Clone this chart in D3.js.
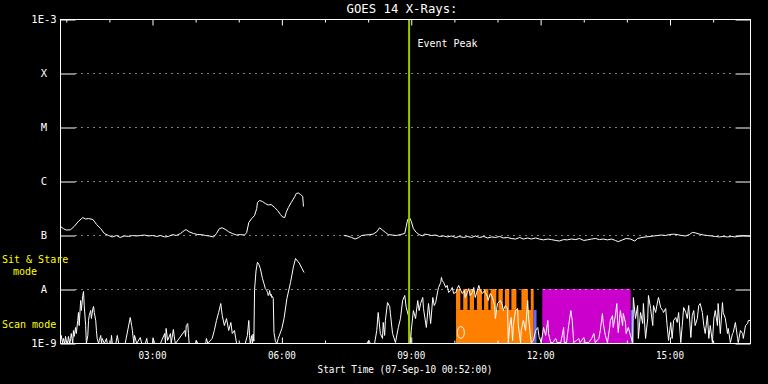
<!DOCTYPE html>
<html><head><meta charset="utf-8">
<script src="https://cdn.jsdelivr.net/npm/d3@7"></script>
<style>html,body{margin:0;padding:0;background:#000;}svg{display:block;}</style>
</head><body><svg id="c" width="768" height="384"></svg>
<script>
const title = "GOES 14 X-Rays:";
const xTitle = "Start Time (07-Sep-10 00:52:00)";
const startTime = new Date(2010, 8, 7, 0, 52, 0);
const spanMinutes = 960;
const levelValues = [1e-3, 1e-4, 1e-5, 1e-6, 1e-7, 1e-8, 1e-9];
const levelLabels = ["1E-3", "X", "M", "C", "B", "A", "1E-9"];
const eventPeakMinute = 485;
const eventLabel = "Event Peak";
const modeLabels = ["Sit & Stare", "mode", "Scan mode"];

// [minutes since start, flux W/m^2]; null marks a data gap
const longChannel = [[0,1.47e-7],[4,1.34e-7],[8,1.26e-7],[14,1.28e-7],[19,1.47e-7],[25,1.83e-7],[31,2.15e-7],[35,2.02e-7],[39,2.06e-7],[45,1.98e-7],[50,1.61e-7],[56,1.34e-7],[61,1.09e-7],[67,1.0e-7],[72,9.4e-8],[78,1.0e-7],[83,9.2e-8],[89,9.8e-8],[95,9.6e-8],[100,1.0e-7],[106,9.8e-8],[111,1.0e-7],[117,1.02e-7],[122,9.8e-8],[128,1.0e-7],[134,9.6e-8],[139,1.0e-7],[145,9.4e-8],[150,9.6e-8],[156,1.04e-7],[161,1.0e-7],[167,1.09e-7],[173,1.26e-7],[175,1.28e-7],[179,1.17e-7],[185,1.09e-7],[191,1.04e-7],[196,1.04e-7],[202,1.0e-7],[207,9.8e-8],[213,9.4e-8],[217,1.09e-7],[221,1.34e-7],[225,1.39e-7],[230,1.28e-7],[234,1.17e-7],[239,1.09e-7],[245,1.02e-7],[250,1.04e-7],[256,1.02e-7],[259,1.13e-7],[262,1.74e-7],[266,2.06e-7],[270,2.35e-7],[273,3.16e-7],[274,4.08e-7],[277,4.45e-7],[281,4.26e-7],[285,3.91e-7],[289,3.67e-7],[293,3.75e-7],[298,3.3e-7],[302,2.9e-7],[306,2.45e-7],[309,2.2e-7],[312,2.15e-7],[314,2.67e-7],[317,3.3e-7],[321,4.08e-7],[326,5.27e-7],[328,6.0e-7],[331,6.12e-7],[334,5.74e-7],[337,5.27e-7],[338,3.44e-7],[339,null],
[394,1.0e-7],[399,9.8e-8],[405,9.2e-8],[410,8.6e-8],[415,9.2e-8],[419,1.0e-7],[424,1.02e-7],[430,1.04e-7],[435,1.06e-7],[440,1.17e-7],[444,1.39e-7],[448,1.26e-7],[452,1.14e-7],[456,1.04e-7],[462,1.02e-7],[467,1.0e-7],[473,1.04e-7],[479,1.09e-7],[481,1.47e-7],[483,1.98e-7],[486,2.1e-7],[488,1.83e-7],[491,1.34e-7],[495,1.14e-7],[499,1.04e-7],[504,9.8e-8],[506,1.06e-7],[511,1.04e-7],[516,1.0e-7],[522,1.02e-7],[527,9.6e-8],[533,9.8e-8],[538,9.4e-8],[544,9.8e-8],[550,9.2e-8],[555,9.6e-8],[561,9.2e-8],[566,9.6e-8],[572,9.2e-8],[577,9.8e-8],[583,9.2e-8],[589,9.6e-8],[594,9.0e-8],[600,9.4e-8],[605,9.2e-8],[611,9.6e-8],[616,9.0e-8],[622,9.2e-8],[627,8.8e-8],[633,8.6e-8],[639,9.2e-8],[644,8.6e-8],[650,9.0e-8],[655,8.6e-8],[661,9.0e-8],[666,8.6e-8],[672,8.3e-8],[678,8.6e-8],[683,8.4e-8],[689,8.1e-8],[694,7.9e-8],[700,8.4e-8],[705,8.3e-8],[711,8.6e-8],[717,8.4e-8],[722,8.8e-8],[728,8.1e-8],[733,8.3e-8],[739,8.6e-8],[744,8.8e-8],[750,8.4e-8],[755,8.6e-8],[761,8.3e-8],[767,8.6e-8],[772,8.1e-8],[776,7.7e-8],[782,8.3e-8],[787,8.8e-8],[793,8.6e-8],[799,7.9e-8],[803,8.8e-8],[809,9.2e-8],[814,9.4e-8],[820,9.6e-8],[825,9.8e-8],[831,1.0e-7],[836,1.02e-7],[842,1.0e-7],[847,1.04e-7],[853,1.06e-7],[858,1.04e-7],[864,1.0e-7],[870,9.8e-8],[875,1.04e-7],[879,1.14e-7],[883,1.12e-7],[889,1.06e-7],[895,1.02e-7],[900,1.0e-7],[906,9.8e-8],[911,9.6e-8],[917,9.4e-8],[922,9.6e-8],[928,9.4e-8],[934,9.6e-8],[939,9.4e-8],[945,9.8e-8],[950,1.0e-7],[956,9.8e-8],[960,9.8e-8]];

const shortChannel = [[0,1.14e-9],[1,1.41e-9],[3,1e-9],[4,1.24e-9],[6,1e-9],[7,1.35e-9],[8,1.14e-9],[10,1e-9],[11,1.35e-9],[13,1e-9],[14,1.24e-9],[15,1.53e-9],[17,1e-9],[18,1.74e-9],[19,1.35e-9],[21,1.98e-9],[22,1.53e-9],[24,2.67e-9],[25,3.75e-9],[26,2.15e-9],[28,6.26e-9],[29,4.08e-9],[31,7.74e-9],[32,9.18e-9],[33,5.05e-9],[35,2.15e-9],[36,1e-9],[38,1.41e-9],[39,2.67e-9],[40,3.30e-9],[42,4.08e-9],[43,2.90e-9],[45,4.45e-9],[46,4.84e-9],[47,3.75e-9],[49,2.67e-9],[50,1.74e-9],[51,1.24e-9],[53,1e-9],[54,1.14e-9],[56,1.41e-9],[57,1e-9],[58,1.24e-9],[61,1e-9],[64,1.24e-9],[65,1e-9],[70,1e-9],[71,1.41e-9],[72,1e-9],[77,1e-9],[79,1.41e-9],[81,1e-9],[90,1e-9],[97,3.03e-9],[99,2.15e-9],[100,1.74e-9],[102,1e-9],[103,1.41e-9],[106,1e-9],[111,1.29e-9],[113,1e-9],[118,1e-9],[120,1.24e-9],[121,1e-9],[128,1e-9],[129,1.24e-9],[131,1e-9],[139,1e-9],[145,1.53e-9],[146,1e-9],[147,1.90e-9],[149,1.14e-9],[153,1.53e-9],[154,1e-9],[157,1.82e-9],[159,1.14e-9],[160,1e-9],[173,1.74e-9],[174,1.35e-9],[175,2.15e-9],[177,2.34e-9],[178,1.53e-9],[179,1e-9],[188,1e-9],[189,1.14e-9],[191,1e-9],[202,1e-9],[203,1.24e-9],[205,1e-9],[211,1.24e-9],[214,1.74e-9],[217,2.67e-9],[220,3.75e-9],[223,5.50e-9],[225,3.30e-9],[228,2.15e-9],[231,2.90e-9],[234,1.74e-9],[237,2.45e-9],[239,1.53e-9],[242,1.74e-9],[245,1e-9],[250,1e-9],[257,1e-9],[260,1.41e-9],[262,2.67e-9],[263,1.41e-9],[264,1e-9],[266,1.4e-9],[267,1e-9],[268,1.5e-9],[269,1.1e-9],[270,1e-8],[272,2.2e-8],[274,3.2e-8],[276,2.9e-8],[278,2.45e-8],[281,1.6e-8],[283,1.3e-8],[285,1.04e-8],[287,9.6e-9],[288,8.8e-9],[289,7.74e-9],[290,8.2e-9],[291,9.58e-9],[292,7.74e-9],[293,8.2e-9],[294,7.1e-9],[295,7.4e-9],[296,6.8e-9],[297,1.6e-9],[299,1.1e-9],[301,1e-9],[303,1.24e-9],[308,1.9e-9],[311,2.9e-9],[315,6.8e-9],[320,1.35e-8],[324,2.6e-8],[327,3.75e-8],[332,3.1e-8],[336,2.45e-8],[339,2.06e-8],[340,null],
[394,1e-9],[426,1e-9],[429,1.14e-9],[431,1e-9],[437,1e-9],[440,1.74e-9],[442,3.75e-9],[445,1.53e-9],[448,1.24e-9],[449,2.45e-9],[451,1.41e-9],[452,2.67e-9],[455,5.74e-9],[458,4.84e-9],[459,3.59e-9],[462,1.53e-9],[466,1.04e-9],[470,1.98e-9],[473,2.9e-9],[476,6.26e-9],[479,7.74e-9],[481,4.64e-9],[484,3.3e-9],[487,1.04e-9],[488,1.74e-9],[491,4.08e-9],[494,2.9e-9],[497,6.26e-9],[499,4.08e-9],[501,5.5e-9],[504,7.11e-9],[505,4.45e-9],[509,1.98e-9],[512,5.5e-9],[515,2.34e-9],[518,7.11e-9],[520,5.05e-9],[522,5.74e-9],[525,9.58e-9],[526,1.09e-8],[529,1.35e-8],[530,1.67e-8],[531,1.47e-8],[533,1.35e-8],[536,1.09e-8],[538,1.19e-8],[540,8.8e-9],[543,9.58e-9],[545,1.09e-8],[547,8.43e-9],[550,8.8e-9],[552,1.04e-8],[554,1.19e-8],[557,9.58e-9],[559,8.43e-9],[562,9.58e-9],[563,7.11e-9],[566,8.8e-9],[568,1.04e-8],[570,7.74e-9],[573,8.8e-9],[575,1.09e-8],[577,7.11e-9],[580,9.58e-9],[582,1.19e-8],[584,9.58e-9],[587,8.43e-9],[590,9.58e-9],[591,8.8e-9],[594,7.42e-9],[595,6.26e-9],[598,8.43e-9],[601,7.11e-9],[604,5.05e-9],[605,2.9e-9],[608,5.5e-9],[612,6.26e-9],[615,5.05e-9],[616,4.08e-9],[619,5.05e-9],[622,4.45e-9],[623,1.04e-9],[625,2.15e-9],[627,3.03e-9],[629,1.14e-9],[630,2.15e-9],[633,4.08e-9],[636,4.45e-9],[637,2.15e-9],[640,1.04e-9],[641,1.74e-9],[644,2.67e-9],[647,1.74e-9],[650,6.26e-9],[651,3.3e-9],[653,1.74e-9],[655,1.04e-9],[658,1.14e-9],[661,1.74e-9],[664,1.98e-9],[666,1.29e-9],[669,1.04e-9],[672,1.98e-9],[675,1.41e-9],[678,2.67e-9],[679,1.53e-9],[682,1.04e-9],[685,1.04e-9],[689,1.24e-9],[691,1.04e-9],[696,1.04e-9],[698,1.41e-9],[700,1.98e-9],[701,1.04e-9],[704,1.04e-9],[707,2.15e-9],[710,4.08e-9],[712,2.67e-9],[714,1.04e-9],[718,1.14e-9],[721,1.24e-9],[723,1.04e-9],[728,1.29e-9],[730,1.04e-9],[735,1.04e-9],[739,1.24e-9],[742,1.53e-9],[744,1.04e-9],[749,1.24e-9],[751,1.74e-9],[754,3.59e-9],[755,2.45e-9],[758,1.41e-9],[761,1.04e-9],[764,1.98e-9],[765,2.67e-9],[768,3.3e-9],[769,1.98e-9],[772,3.3e-9],[774,5.5e-9],[775,2.67e-9],[776,1.6e-9],[779,4.08e-9],[782,2.15e-9],[783,3.59e-9],[786,2.45e-9],[787,1.53e-9],[790,1.98e-9],[793,1.41e-9],[796,1.04e-9],[797,7.11e-9],[800,2.9e-9],[803,5.05e-9],[804,1.24e-9],[807,3.75e-9],[810,2.34e-9],[811,5.5e-9],[814,1.24e-9],[817,2.9e-9],[818,7.74e-9],[821,4.45e-9],[824,2.15e-9],[825,5.05e-9],[828,3.75e-9],[831,6.26e-9],[832,7.11e-9],[835,4.64e-9],[838,4.08e-9],[839,3.75e-9],[842,4.45e-9],[844,2.15e-9],[846,1.14e-9],[849,2.45e-9],[851,1.24e-9],[853,2.67e-9],[856,3.03e-9],[858,2.45e-9],[860,3.75e-9],[863,1.04e-9],[865,2.15e-9],[867,4.64e-9],[870,3.75e-9],[872,2.9e-9],[874,5.05e-9],[877,1.29e-9],[879,3.3e-9],[881,4.08e-9],[883,2.15e-9],[886,2.9e-9],[888,5.05e-9],[890,5.5e-9],[893,3.75e-9],[895,2.15e-9],[897,1.53e-9],[900,3.3e-9],[902,1.24e-9],[904,2.15e-9],[907,1.04e-9],[909,2.9e-9],[911,4.08e-9],[914,2.15e-9],[915,5.5e-9],[918,1.53e-9],[921,5.74e-9],[922,3.75e-9],[925,2.9e-9],[928,1.53e-9],[929,1.9e-9],[932,1.04e-9],[935,1.53e-9],[936,1.6e-9],[939,2.45e-9],[942,1.24e-9],[943,1.04e-9],[946,1.74e-9],[949,1.53e-9],[950,1.24e-9],[953,2.15e-9],[956,2.34e-9],[957,2.67e-9],[960,2.67e-9]];

// observing-mode bars: [start minute, end minute]
const bandTop = 1e-8, bandMid = 4.1e-9, bandBottom = 1e-9;
const sitStareOrange = [[551,557],[561,567],[570,576],[580,587],[590,596],[599,607],[610,616],[619,625],[628,635],[642,651],[655,659]];
const scanOrange = [[551,659]];
const scanBlue = [[659,663],[794,798]];
const fullMagenta = [[671,794]];
const markerO = [[557, 1.6e-9]];

const svg = d3.select("#c");
svg.append("rect").attr("width",768).attr("height",384).attr("fill","#000");
const FONT = "DejaVu Sans Mono, monospace";
const toDate = m => new Date(startTime.getTime() + m*60000);
const x = d3.scaleTime().domain([startTime, toDate(spanMinutes)]).range([60, 750]);
const y = d3.scaleLog().domain([1e-9, 1e-3]).range([343, 19]);
const g = svg.append("g").attr("transform","translate(0.5,0.5)");

g.append("defs").append("clipPath").attr("id","clip").append("rect")
  .attr("x",60).attr("y",19).attr("width",690).attr("height",324);
const plot = g.append("g").attr("clip-path","url(#clip)");

// grid dotted lines
g.selectAll("line.grid").data(levelValues.slice(1,6)).join("line")
  .attr("x1",75).attr("x2",735).attr("y1",d=>Math.round(y(d))).attr("y2",d=>Math.round(y(d)))
  .attr("stroke","#fff").attr("stroke-dasharray","1,5").attr("stroke-width",1);

// mode bars
function bars(data, c, top, bot) {
  plot.append("g").selectAll("rect").data(data).join("rect")
    .attr("x", d=>x(toDate(d[0]))).attr("width", d=>x(toDate(d[1]))-x(toDate(d[0])))
    .attr("y", y(top)).attr("height", y(bot)-y(top)).attr("fill", c).attr("transform","translate(-0.5,-0.5)");
}
bars(sitStareOrange, "#ff8000", bandTop, bandMid);
bars(scanOrange, "#ff8000", bandMid, bandBottom);
bars(scanBlue, "#6868ff", bandMid, bandBottom);
bars(fullMagenta, "#cc00cc", bandTop, bandBottom);

// axes ticks
const hourTicks = x.ticks(d3.timeHour.every(1));
const majorTicks = x.ticks(d3.timeHour.every(3));
const isMajor = d => d.getHours() % 3 === 0;
g.append("g").attr("transform","translate(0,19)")
  .call(d3.axisBottom(x).tickValues(hourTicks).tickFormat("").tickSizeInner(0).tickSizeOuter(0))
  .call(a=>{a.select(".domain").remove(); a.selectAll(".tick line").attr("stroke","#fff").attr("y2",d=>isMajor(d)?6:3);});
g.append("g").attr("transform","translate(0,343)")
  .call(d3.axisTop(x).tickValues(hourTicks).tickFormat("").tickSizeInner(0).tickSizeOuter(0))
  .call(a=>{a.select(".domain").remove(); a.selectAll(".tick line").attr("stroke","#fff").attr("y2",d=>isMajor(d)?-6:-3);});
g.append("g").attr("transform","translate(60,0)")
  .call(d3.axisRight(y).tickValues(levelValues).tickFormat("").tickSizeInner(15).tickSizeOuter(0))
  .call(a=>{a.select(".domain").remove(); a.selectAll(".tick line").attr("stroke","#fff");});
g.append("g").attr("transform","translate(750,0)")
  .call(d3.axisLeft(y).tickValues(levelValues).tickFormat("").tickSizeInner(15).tickSizeOuter(0))
  .call(a=>{a.select(".domain").remove(); a.selectAll(".tick line").attr("stroke","#fff");});

// curves
const line = d3.line().defined(d=>d[1]!=null).x(d=>x(toDate(d[0]))).y(d=>y(d[1]));
plot.append("path").datum(shortChannel).attr("d",line).attr("fill","none").attr("stroke","#fff").attr("stroke-width",1);
const ex = x(toDate(eventPeakMinute));
g.append("line").attr("x1",ex).attr("x2",ex).attr("y1",19).attr("y2",343)
  .attr("stroke","#9cc800").attr("stroke-width",2);
plot.append("path").datum(longChannel).attr("d",line).attr("fill","none").attr("stroke","#fff").attr("stroke-width",1);
plot.selectAll("ellipse").data(markerO).join("ellipse")
  .attr("cx",d=>x(toDate(d[0]))).attr("cy",d=>y(d[1])).attr("rx",3.5).attr("ry",6)
  .attr("fill","none").attr("stroke","#fff");

// frame
g.append("rect").attr("x",60).attr("y",19).attr("width",690).attr("height",324)
  .attr("fill","none").attr("stroke","#fff");

// texts
svg.append("text").attr("x",402).attr("y",13).attr("text-anchor","middle")
  .attr("font-family",FONT).attr("font-size",12).attr("fill","#fff")
  .attr("textLength",111).attr("lengthAdjust","spacingAndGlyphs").text(title);
svg.append("text").attr("x",ex+9).attr("y",47).attr("font-family",FONT).attr("font-size",10.5)
  .attr("fill","#fff").attr("textLength",60).attr("lengthAdjust","spacingAndGlyphs").text(eventLabel);
svg.selectAll("text.ylab").data(levelValues).join("text")
  .attr("x",44).attr("y",d=>y(d)+4).attr("text-anchor","middle")
  .attr("font-family",FONT).attr("font-size",10.5).attr("fill","#fff")
  .text((d,i)=>levelLabels[i]);
svg.selectAll("text.xlab").data(majorTicks).join("text")
  .attr("x",d=>x(d)+0.5).attr("y",359).attr("text-anchor","middle")
  .attr("font-family",FONT).attr("font-size",10).attr("fill","#fff")
  .attr("textLength",28).attr("lengthAdjust","spacingAndGlyphs")
  .text(d3.timeFormat("%H:%M"));
svg.append("text").attr("x",405).attr("y",373).attr("text-anchor","middle")
  .attr("font-family",FONT).attr("font-size",10).attr("fill","#fff")
  .attr("textLength",175).attr("lengthAdjust","spacingAndGlyphs").text(xTitle);
const yl = [[2,263],[13,275],[2,328]];
svg.selectAll("text.mode").data(modeLabels).join("text")
  .attr("x",(d,i)=>yl[i][0]).attr("y",(d,i)=>yl[i][1])
  .attr("font-family",FONT).attr("font-size",10).attr("fill","#ffff00").text(d=>d);
</script></body></html>
